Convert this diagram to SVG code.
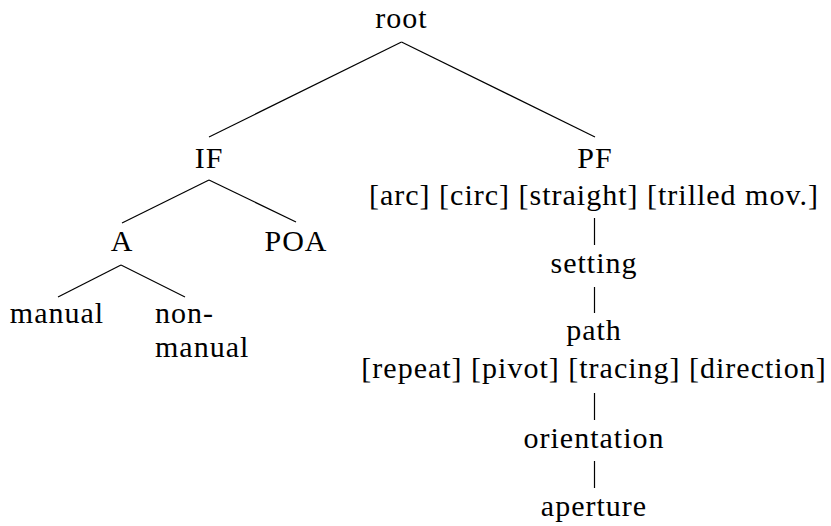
<svg xmlns="http://www.w3.org/2000/svg" width="831" height="526" viewBox="0 0 831 526">
  <style>
    text { font-family: "Liberation Serif", "DejaVu Serif", serif; font-size: 30px; fill: #000; text-anchor: middle; letter-spacing: 1px; }
    .edge { stroke: #000; stroke-width: 1.2; fill: none; }
  </style>
  <rect width="831" height="526" fill="#fff"/>

  <!-- tree edges -->
  <g id="edges">
    <line class="edge" x1="401.5" y1="42" x2="209" y2="137"/>
    <line class="edge" x1="401.5" y1="42" x2="595" y2="137"/>
    <line class="edge" x1="209" y1="180" x2="122" y2="223"/>
    <line class="edge" x1="209" y1="180" x2="296" y2="222"/>
    <line class="edge" x1="121" y1="265" x2="58" y2="297"/>
    <line class="edge" x1="121" y1="265" x2="185" y2="297"/>
    <line class="edge" x1="594.5" y1="218" x2="594.5" y2="245"/>
    <line class="edge" x1="594.5" y1="287" x2="594.5" y2="313"/>
    <line class="edge" x1="594.5" y1="393" x2="594.5" y2="420"/>
    <line class="edge" x1="594.5" y1="461" x2="594.5" y2="488"/>
  </g>

  <g id="root"><text x="401.5" y="28">root</text></g>
  <g id="IF"><text x="209" y="168">IF</text></g>
  <g id="PF">
    <text x="595" y="168">PF</text>
    <text x="594" y="205">[arc] [circ] [straight] [trilled mov.]</text>
  </g>
  <g id="A"><text x="122" y="251">A</text></g>
  <g id="POA"><text x="296" y="251">POA</text></g>
  <g id="manual"><text x="57" y="323">manual</text></g>
  <g id="non-manual">
    <text x="155" y="323" style="text-anchor:start">non-</text>
    <text x="155" y="357" style="text-anchor:start">manual</text>
  </g>
  <g id="setting"><text x="594" y="273">setting</text></g>
  <g id="path">
    <text x="594" y="340">path</text>
    <text x="594" y="378">[repeat] [pivot] [tracing] [direction]</text>
  </g>
  <g id="orientation"><text x="594" y="448">orientation</text></g>
  <g id="aperture"><text x="594" y="516">aperture</text></g>
</svg>
